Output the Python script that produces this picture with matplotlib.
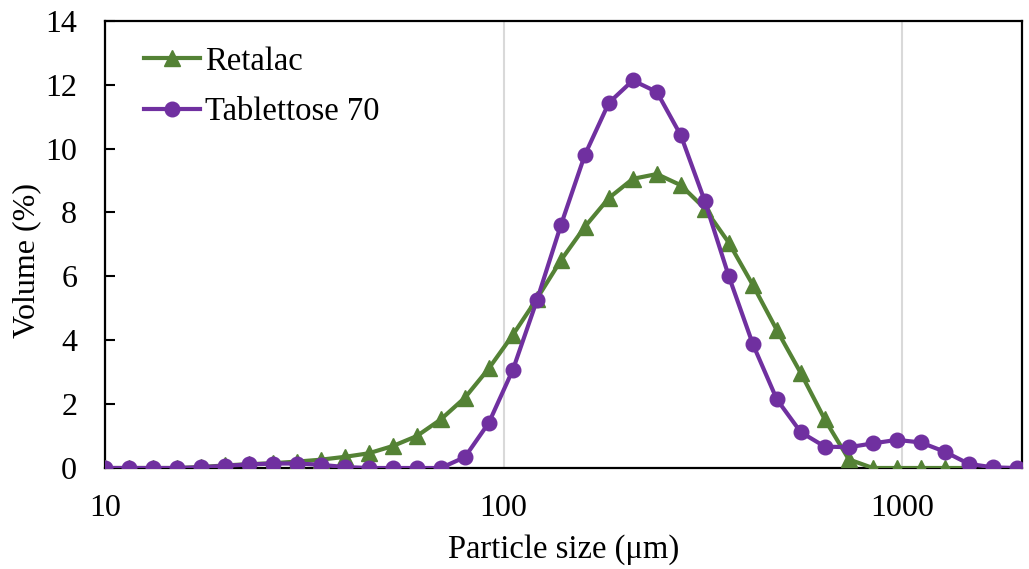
import matplotlib
matplotlib.use("Agg")
import matplotlib.pyplot as plt
from matplotlib.ticker import FixedLocator, FixedFormatter, NullLocator

plt.rcParams['font.family'] = ['Liberation Serif', 'DejaVu Serif']

sizes = [10.0, 11.5, 13.2, 15.2, 17.4, 20.0, 23.0, 26.4, 30.3, 34.8, 40.0, 45.9, 52.8,
         60.6, 69.6, 80.0, 91.9, 105.6, 121.3, 139.3, 160.0, 183.8, 211.1, 242.5, 278.6,
         320.0, 367.6, 422.2, 485.0, 557.2, 640.0, 735.2, 844.5, 970.1, 1114.3, 1280.0,
         1470.3, 1688.9, 1940.1]

retalac = [0, 0, 0, 0, 0.03, 0.08, 0.12, 0.15, 0.2, 0.26, 0.35, 0.46, 0.69, 1.0, 1.52,
           2.2, 3.12, 4.17, 5.3, 6.5, 7.55, 8.45, 9.05, 9.2, 8.85, 8.12, 7.05, 5.73, 4.32,
           2.97, 1.52, 0.27, 0, 0, 0, 0, 0]

tablettose = [0, 0, 0, 0, 0.02, 0.07, 0.11, 0.14, 0.14, 0.1, 0.03, 0, 0, 0, 0, 0.34,
              1.42, 3.08, 5.25, 7.6, 9.8, 11.43, 12.13, 11.77, 10.41, 8.35, 6.0, 3.88,
              2.15, 1.12, 0.67, 0.65, 0.77, 0.88, 0.8, 0.51, 0.13, 0.02, 0]

series_names = ["Retalac", "Tablettose 70"]
x_ticks = [10, 100, 1000]
x_ticklabels = ["10", "100", "1000"]
y_ticks = [0, 2, 4, 6, 8, 10, 12, 14]

green = "#548235"
purple = "#7030A0"

fig = plt.figure(figsize=(10.29, 5.69), dpi=100)
ax = fig.add_axes([105/1029, 1 - 468/569, (1022 - 105)/1029, (468 - 20.7)/569])

ax.plot(sizes[:len(retalac)], retalac, color=green, lw=3, marker="^", ms=11,
        label=series_names[0], zorder=3)
ax.plot(sizes[:len(tablettose)], tablettose, color=purple, lw=3, marker="o", ms=10.5,
        label=series_names[1], zorder=4)

ax.set_xscale("log")
ax.set_xlim(10, 2000)
ax.set_ylim(0, 14)
ax.xaxis.set_major_locator(FixedLocator(x_ticks))
ax.xaxis.set_major_formatter(FixedFormatter(x_ticklabels))
ax.xaxis.set_minor_locator(NullLocator())
ax.set_yticks(y_ticks)
ax.grid(axis="x", which="major", color="#D9D9D9", lw=1.5, zorder=0)
ax.set_axisbelow(True)

ax.tick_params(axis="x", length=0, labelsize=23, pad=19)
ax.tick_params(axis="y", direction="in", length=7, width=1.5, labelsize=23, pad=20)

for s in ax.spines.values():
    s.set_linewidth(1.6)
    s.set_color("black")

ax.set_xlabel("Particle size (\u03bcm)", fontsize=23.5, labelpad=8)
ax.set_ylabel("Volume (%)", fontsize=23)
ax.yaxis.set_label_coords((41 - 105) / 917, (468 - 261) / 447.3)

leg = ax.legend(loc="upper left", bbox_to_anchor=(144/1029, 1 - 46/569),
                bbox_transform=fig.transFigure, frameon=False, fontsize=23.5,
                handlelength=1.72, handletextpad=0.15, labelspacing=0.62,
                borderaxespad=0, borderpad=0)

fig.savefig("out.png", dpi=100)
